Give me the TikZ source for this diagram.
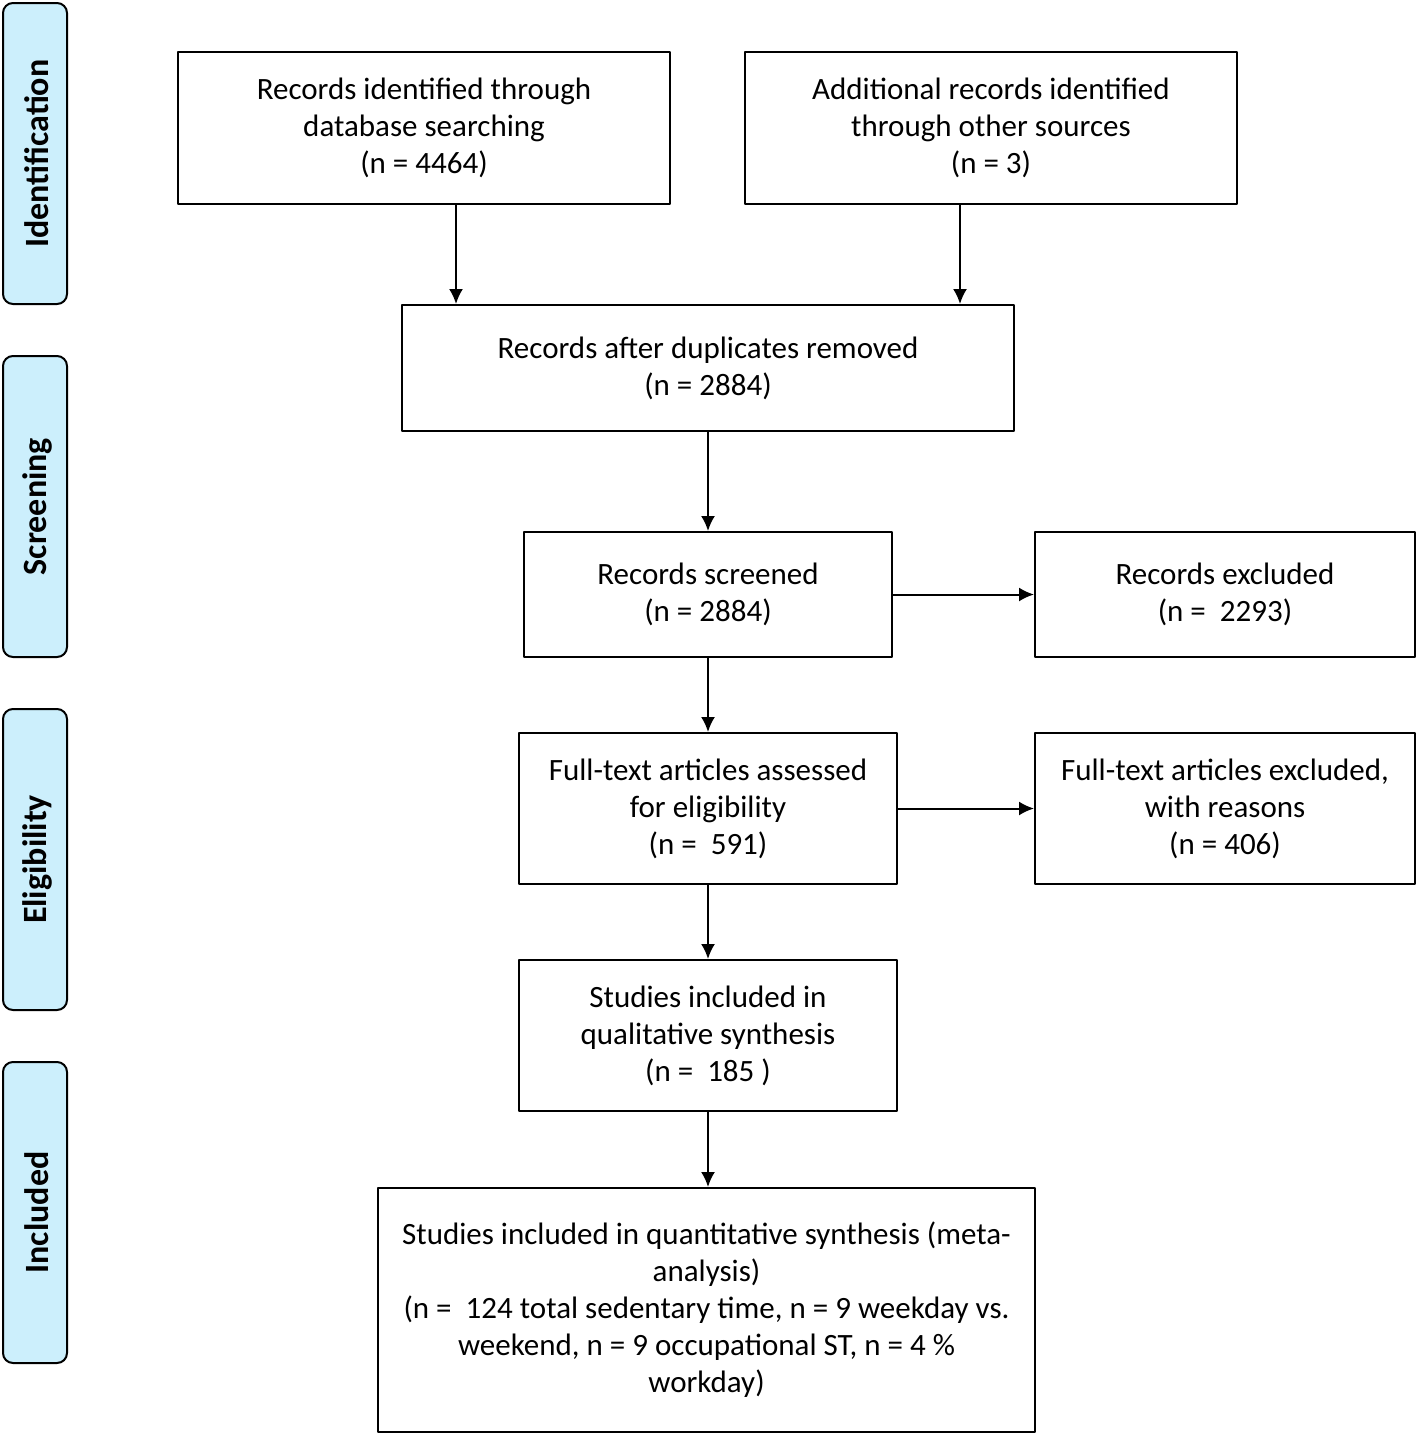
\documentclass[tikz,border=0pt]{standalone}
\usepackage{fontspec}
\setmainfont{Carlito}
\usetikzlibrary{arrows.meta}
\begin{document}
\begin{tikzpicture}[x=0.5pt,y=-0.5pt,>={Latex[length=7.5pt,width=7pt]},line join=round,
	box/.style={draw,line width=1pt,align=center,inner sep=0pt,font=\fontsize{15.5}{18.5}\selectfont},
	phase/.style={draw,line width=1pt,rounded corners=5pt,fill=cyan!20!white,minimum width=32pt,minimum height=150.5pt,inner sep=0pt},
	flow/.style={->,line width=1pt}]
	\useasboundingbox (0,0) rectangle (1418,1436);
	% phases on the left
	\foreach \n/\y in {ident/153.5,screen/506.5,elig/859.5,incl/1212.5}
	\node[phase] (\n) at (35,\y) {};
	\foreach \n/\t in {ident/Identification,screen/Screening,elig/Eligibility,incl/Included}
	\node[rotate=90,font=\fontsize{17}{20}\selectfont\bfseries] at ([xshift=1pt]\n) {\t};
	% boxes
	\node[box,minimum width=246pt,minimum height=76pt] (db) at (424,128) {Records identified through\\database searching\\(n = 4464)};
	\node[box,minimum width=246pt,minimum height=76pt] (other) at (991,128) {Additional records identified\\through other sources\\(n = 3)};
	\node[box,minimum width=306pt,minimum height=63pt] (dup) at (708,368) {Records after duplicates removed\\(n = 2884)};
	\node[box,minimum width=184pt,minimum height=62.5pt] (scr) at (708,594.5) {Records screened\\(n = 2884)};
	\node[box,minimum width=190pt,minimum height=62.5pt] (excl) at (1225,594.5) {Records excluded\\(n =\ \ 2293)};
	\node[box,minimum width=189pt,minimum height=75.5pt] (full) at (708,808.5) {Full-text articles assessed\\for eligibility\\(n =\ \ 591)};
	\node[box,minimum width=190pt,minimum height=75.5pt] (fullexcl) at (1225,808.5) {Full-text articles excluded,\\with reasons\\(n = 406)};
	\node[box,minimum width=189pt,minimum height=75.5pt] (qual) at (708,1035.5) {Studies included in\\qualitative synthesis\\(n =\ \ 185 )};
	\node[box,minimum width=328.5pt,minimum height=122pt] (quant) at (706.5,1310) {Studies included in quantitative synthesis (meta-\\analysis)\\(n =\ \ 124 total sedentary time, n = 9 weekday vs.\\weekend, n = 9 occupational ST, n = 4 \%\\workday)};
	% arrows
	\draw[flow] (db.south -| 456,0) -- (dup.north -| 456,0);
	\draw[flow] (other.south -| 960,0) -- (dup.north -| 960,0);
	\draw[flow] (dup) -- (scr);
	\draw[flow] (scr) -- (excl);
	\draw[flow] (scr) -- (full);
	\draw[flow] (full) -- (fullexcl);
	\draw[flow] (full) -- (qual);
	\draw[flow] (qual) -- (qual |- quant.north);
\end{tikzpicture}
\end{document}
